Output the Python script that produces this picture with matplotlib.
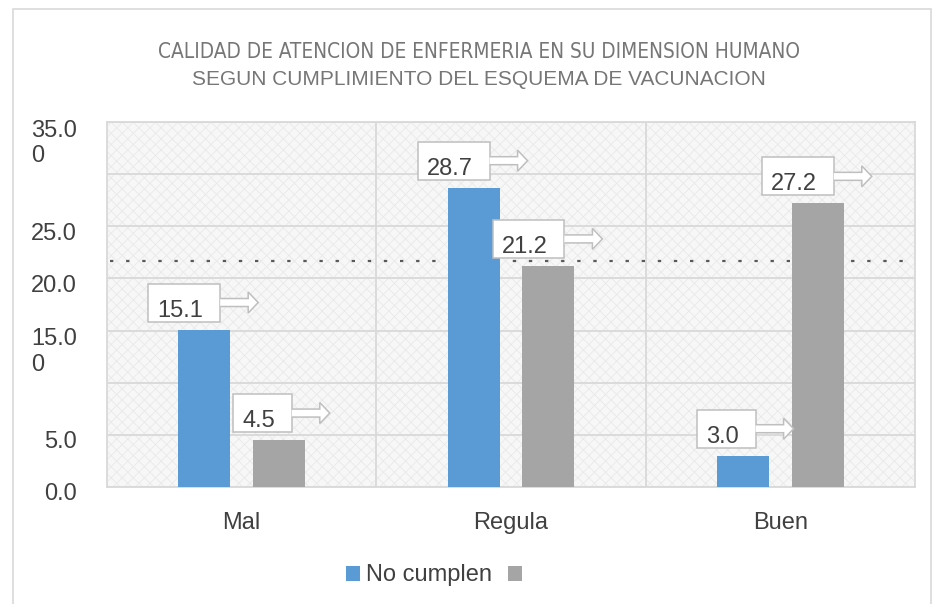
import matplotlib
matplotlib.use('Agg')
import matplotlib.pyplot as plt
from matplotlib.patches import Rectangle, Polygon
from matplotlib.transforms import IdentityTransform, ScaledTranslation
from matplotlib import font_manager
import numpy as np

# ---------------- data ----------------
categories = ['Mal', 'Regula', 'Buen']
no_cumplen = [15.1, 28.7, 3.0]
cumplen = [4.5, 21.2, 27.2]
series_labels = ['No cumplen', '']
y_ticks = [0, 5, 10, 15, 20, 25, 30, 35]
y_tick_labels = ['0.0', '5.0', '', '15.0\n0', '20.0', '25.0', '', '35.0\n0']
ref_line = 21.7
title_lines = ['CALIDAD DE ATENCION DE ENFERMERIA EN SU DIMENSION HUMANO',
               'SEGUN CUMPLIMIENTO DEL ESQUEMA DE VACUNACION']

# ---------------- style ----------------
W, H = 932, 604
BLUE = '#5b9bd5'
GRAY = '#a5a5a5'
TXT = '#404040'
GRID = '#d9d9d9'
FS = 17

plt.rcParams['font.family'] = ['Liberation Sans', 'DejaVu Sans']
plt.rcParams['lines.scale_dashes'] = False
plt.rcParams['hatch.linewidth'] = 0.6

# choose a narrow face for the first title line
fl = font_manager.fontManager.ttflist
names = {f.name for f in fl}
if 'Liberation Sans Narrow' in names:
    narrow_kw = dict(family=['Liberation Sans Narrow', 'DejaVu Sans'])
elif any(f.name == 'DejaVu Sans' and f.stretch == 'condensed' for f in fl):
    narrow_kw = dict(family=['DejaVu Sans'], fontstretch='condensed')
else:
    narrow_kw = dict(family=['Roboto', 'DejaVu Sans'])

fig = plt.figure(figsize=(W / 100, H / 100), dpi=100)


def px(x0, y0, x1, y1):
    return [x0 / W, 1 - y1 / H, (x1 - x0) / W, (y1 - y0) / H]


# figure frame
fig.patches.append(Rectangle((13 / W, -0.1), (931 - 13) / W, 1.1 - 9 / H,
                             transform=fig.transFigure, fill=False,
                             edgecolor=GRID, lw=1.2))

ax = fig.add_axes(px(107, 122, 915, 487))
ax.set_facecolor('none')
# textured background
ax.add_patch(Rectangle((0, 0), 1, 1, transform=ax.transAxes, facecolor='#f7f7f7',
                       edgecolor='#e9e9e9', hatch='xxx', lw=0, zorder=0))

x = np.arange(len(categories))
bw = 0.193
off = 0.139
b1 = ax.bar(x - off, no_cumplen, bw, color=BLUE, zorder=3)
b2 = ax.bar(x + off, cumplen, bw, color=GRAY, zorder=3)

ax.set_xlim(-0.5, 2.5)
ax.set_ylim(0, 35)
ax.set_xticks(x, categories)
ax.set_yticks(y_ticks, y_tick_labels)
ax.yaxis.grid(True, color=GRID, lw=1.3, zorder=1)
ax.set_axisbelow(True)
for b in [0.5, 1.5]:
    ax.axvline(b, color=GRID, lw=1.3, zorder=1)
for s in ax.spines.values():
    s.set_color(GRID)
    s.set_linewidth(1.3)

ax.tick_params(axis='both', length=0, labelsize=FS, labelcolor=TXT)
ax.tick_params(axis='y', pad=21.6)
ax.tick_params(axis='x', pad=18.2)
for lab in ax.get_yticklabels():
    lab.set_verticalalignment('baseline')
    lab.set_multialignment('left')
    shift = 13.5 + (26.5 if '\n' in lab.get_text() else 0)
    lab.set_transform(lab.get_transform() +
                      ScaledTranslation(0, -shift / 100, fig.dpi_scale_trans))

ax.axhline(ref_line, xmin=0.004, xmax=0.985, color='#595959', lw=1.6,
           dashes=(2.4, 9.2), zorder=2)

# legend
fig.legend([b1, b2], series_labels, loc='center',
           bbox_to_anchor=(437 / W, 1 - 575.5 / H), ncol=2, frameon=False,
           fontsize=FS, handlelength=0.6, handleheight=0.6,
           handletextpad=0.26, columnspacing=0.65, labelcolor=TXT,
           borderpad=0, borderaxespad=0)

# title
renderer = fig.canvas.get_renderer()
for line, kw, width, base in [(title_lines[0], narrow_kw, 645, 58.3),
                              (title_lines[1], dict(family=['Liberation Sans', 'DejaVu Sans']), 573, 85)]:
    t = fig.text(479 / W, 1 - base / H, line, ha='center', va='baseline',
                 color='#767676', fontsize=16, **kw)
    w = t.get_window_extent(renderer).width
    t.set_fontsize(16 * width / w)

# callouts
ID = IdentityTransform()
for xs, vals in [(x - off, no_cumplen), (x + off, cumplen)]:
    for xi, v in zip(xs, vals):
        cx, ty = ax.transData.transform((xi, v))
        t = ax.text(0, 0, f'{v:.1f}', transform=ID, ha='right', va='baseline',
                    fontsize=FS, color=TXT, zorder=7)
        w = t.get_window_extent(renderer).width
        tr = cx - 1 - (46 - w) * 0.25
        t.set_position((tr, ty + 13))
        left = tr - w - 9
        right = tr + 17
        bottom = ty + 8
        top = bottom + 38
        mid = (bottom + top) / 2
        ax.add_patch(Rectangle((left, bottom), right - left, top - bottom,
                               transform=ID, facecolor='white',
                               edgecolor='#bfbfbf', lw=1.1, zorder=6,
                               clip_on=False))
        pts = [(right, mid + 4), (right + 28, mid + 4), (right + 28, mid + 10.5),
               (right + 38, mid), (right + 28, mid - 10.5), (right + 28, mid - 4),
               (right, mid - 4)]
        ax.add_patch(Polygon(pts, closed=False, transform=ID, facecolor='white',
                             edgecolor='#bfbfbf', lw=1.1, zorder=6,
                             clip_on=False))

fig.savefig('out.png', dpi=100)
